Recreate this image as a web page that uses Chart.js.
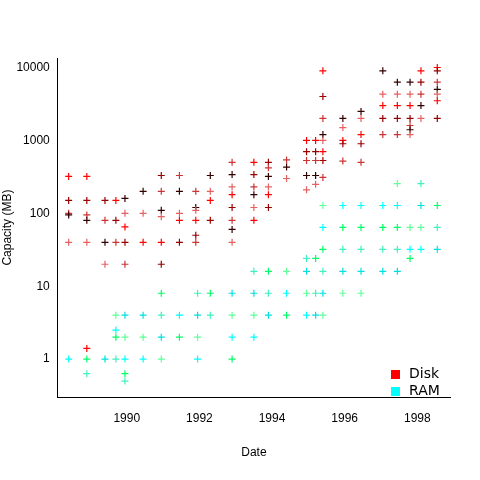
<!DOCTYPE html>
<html>
<head>
<script src="https://cdn.jsdelivr.net/npm/chart.js@4"></script>
<style>body{margin:0;background:#fff}</style>
</head>
<body>
<canvas id="c" width="480" height="480" style="width:480px;height:480px"></canvas>
<script>
// Disk columns: date -> capacities
const diskDates = [1988.4, 1988.9, 1989.4, 1989.7, 1989.95, 1990.45, 1990.95, 1991.45, 1991.9, 1992.3, 1992.9, 1993.5, 1993.9, 1994.4, 1994.95, 1995.2, 1995.4, 1995.95, 1996.45, 1997.05, 1997.45, 1997.8, 1998.1, 1998.55];
const diskValues = [
  [320, 150, 100, 95, 40],
  [320, 150, 95, 80, 40, 1.4],
  [150, 80, 40, 20],
  [150, 80, 40],
  [160, 100, 65, 40, 20],
  [200, 100, 40],
  [330, 200, 110, 90, 40, 20],
  [330, 200, 100, 80, 40],
  [200, 120, 110, 80, 50, 40],
  [330, 200, 150, 80],
  [500, 340, 230, 180, 120, 80, 60, 40],
  [500, 340, 230, 180, 120, 80],
  [500, 420, 320, 230, 180, 120],
  [540, 430, 300],
  [1000, 700, 530, 330, 210],
  [1000, 700, 530, 330, 250],
  [9000, 4000, 2000, 1200, 1000, 700, 530, 310],
  [2000, 1500, 1000, 900, 520],
  [2500, 2000, 1200, 900, 500],
  [9000, 4300, 3000, 2000, 1200],
  [6300, 4300, 3000, 2000, 1200],
  [6300, 4300, 3000, 2000, 1600, 1400, 1200],
  [9000, 6300, 4300, 3000, 2000],
  [10000, 9000, 6300, 5000, 4300, 3500, 2000]
];
const ramDates = [1988.4, 1988.9, 1989.4, 1989.7, 1989.95, 1990.45, 1990.95, 1991.45, 1991.95, 1992.3, 1992.9, 1993.5, 1993.9, 1994.4, 1994.95, 1995.2, 1995.4, 1995.95, 1996.45, 1997.05, 1997.45, 1997.8, 1998.1, 1998.55];
const ramValues = [
  [1], [1, 0.63], [1], [4, 2.5, 2, 1], [4, 2, 1, 0.63, 0.5], [4, 2, 1], [8, 4, 2, 1], [4, 2],
  [8, 4, 2, 1], [8, 4], [8, 4, 2, 1], [16, 8, 4, 2], [16, 8, 4], [16, 8, 4], [24, 16, 8, 4], [24, 8, 4],
  [128, 64, 32, 16, 8, 4], [128, 64, 32, 16, 8], [128, 64, 32, 16, 8], [128, 64, 32, 16],
  [256, 128, 64, 32, 16], [64, 32, 24], [256, 128, 64, 32], [128, 64, 32]
];
const xTicks = [1990, 1992, 1994, 1996, 1998];
const yTicks = [1, 10, 100, 1000, 10000];
const diskShades = ['#ff0000', '#990000', '#cc3333', '#330000', '#e66060'];
const ramShades = ['#00ffff', '#00ff66', '#40f0c0', '#00e0e0', '#60ff99'];

function flatten(dates, values) {
  const pts = [];
  dates.forEach((d, i) => values[i].forEach(v => pts.push({x: d, y: v})));
  return pts;
}
const diskPts = flatten(diskDates, diskValues);
const ramPts = flatten(ramDates, ramValues);

const legendBox = {
  id: 'legendBox',
  afterDraw(chart) {
    const ctx = chart.ctx;
    ctx.save();
    ctx.font = '14px "DejaVu Sans", Arial, sans-serif';
    ctx.textBaseline = 'middle';
    [['Disk', '#ff0000', 374], ['RAM', '#00ffff', 391]].forEach(([t, c, y]) => {
      ctx.fillStyle = c;
      ctx.fillRect(391, y - 4, 9, 9);
      ctx.fillStyle = '#000';
      ctx.fillText(t, 409, y);
    });
    ctx.restore();
  }
};

new Chart(document.getElementById('c'), {
  type: 'scatter',
  data: {
    datasets: [
      {label: 'Disk', data: diskPts, pointStyle: 'cross', radius: 3.5, borderWidth: 1.2,
       borderColor: diskPts.map((p, i) => diskShades[i % diskShades.length])},
      {label: 'RAM', data: ramPts, pointStyle: 'cross', radius: 3.5, borderWidth: 1.2,
       borderColor: ramPts.map((p, i) => ramShades[i % ramShades.length])}
    ]
  },
  options: {
    responsive: false,
    animation: false,
    layout: {padding: {top: 58, right: 30, left: 0, bottom: 16}},
    plugins: {legend: {display: false}, tooltip: {enabled: false}},
    scales: {
      x: {
        type: 'linear', min: 1988.1, max: 1998.9,
        afterBuildTicks: a => { a.ticks = xTicks.map(v => ({value: v})); },
        grid: {display: false, drawTicks: true, tickLength: 6},
        border: {color: '#000'},
        ticks: {color: '#000', font: {size: 12}, padding: 8, callback: v => String(v), maxRotation: 0},
        title: {display: true, text: 'Date', color: '#000', font: {size: 12}, padding: {top: 12}}
      },
      y: {
        type: 'logarithmic', min: 0.32, max: 13500,
        afterBuildTicks: a => { a.ticks = yTicks.map(v => ({value: v})); },
        grid: {display: false, drawTicks: true, tickLength: 6},
        border: {color: '#000'},
        ticks: {color: '#000', font: {size: 12}, padding: 2, callback: v => String(v)},
        title: {display: true, text: 'Capacity (MB)', color: '#000', font: {size: 12}, padding: {bottom: 0, top: 0}}
      }
    }
  },
  plugins: [legendBox]
});
</script>
</body>
</html>
